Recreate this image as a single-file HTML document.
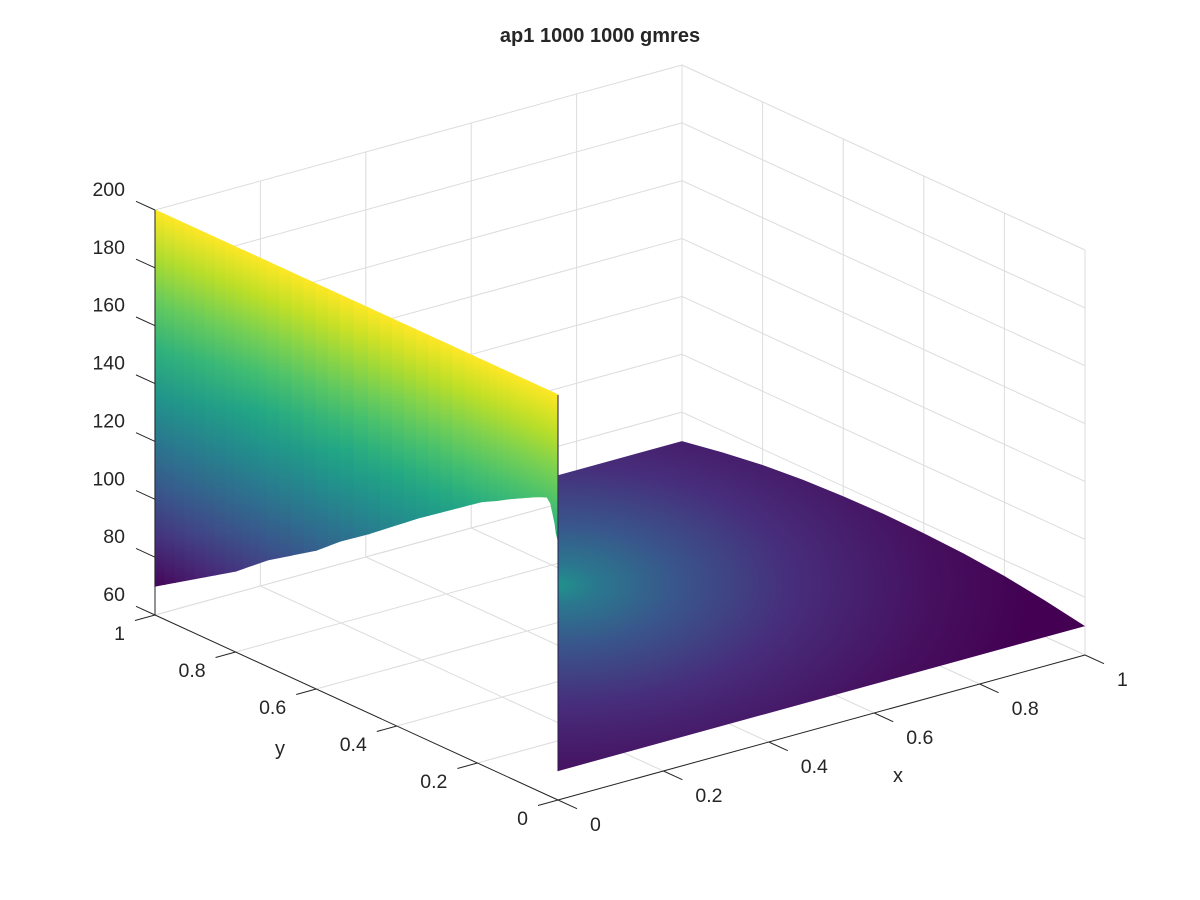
<!DOCTYPE html>
<html><head><meta charset="utf-8"><title>ap1 1000 1000 gmres</title>
<style>html,body{margin:0;padding:0;background:#fff}svg{display:block}text{font-family:"Liberation Sans",sans-serif;fill:#262626}</style>
</head><body>
<svg id="chart" width="1200" height="900" viewBox="0 0 1200 900" xmlns="http://www.w3.org/2000/svg">
<defs id="defs"></defs>
<g id="grid"></g>
<g id="surface"></g>
<g id="axes"></g>
<text x="600" y="42" text-anchor="middle" font-size="20" font-weight="bold">ap1 1000 1000 gmres</text>
<text x="898" y="782" text-anchor="middle" font-size="20">x</text>
<text x="280" y="755" text-anchor="middle" font-size="20">y</text>
</svg>
<script>
const xTicks=[0,0.2,0.4,0.6,0.8,1];
const yTicks=[0,0.2,0.4,0.6,0.8,1];
const zTicks=[60,80,100,120,140,160,180,200];
const xTickLabels=["0","0.2","0.4","0.6","0.8","1"];
const yTickLabels=["0","0.2","0.4","0.6","0.8","1"];
const zTickLabels=["60","80","100","120","140","160","180","200"];
// wall (x=0 edge) : top value and lower silhouette values along y
const wallTopZ=200;
const wallY=[1,0.95,0.9,0.85,0.8,0.76,0.72,0.66,0.6,0.54,0.47,0.41,0.35,0.29,0.23,0.19,0.15,0.12,0.1,0.08,0.06,0.04,0.027,0.018,0.012,0.007,0.004,0];
const wallZ=[70,74.5,79,83.5,88,92.5,97,102.5,108,115,122,128.5,135,141,147,151,154,156.5,158,159.5,161,162.3,163,161.5,158,155,152,150];
// far edge x=1 values along y
const edgeY=[0,0.1,0.2,0.3,0.4,0.5,0.6,0.7,0.8,0.9,1];
const edgeZ=[70,72.5,74.5,75.8,76.5,76.8,76.5,75.8,74.5,72.5,70];
const floorZ=70;
const zMin=60,zMax=200,cMin=68,cMax=200;

const NS="http://www.w3.org/2000/svg";
const K=405/140;
function P(x,y,z){return [558+527*x-403*y, 800-145*x-185*y-(z-zMin)*K];}
const vir=["#440154","#482475","#414487","#355f8d","#2a788e","#21918c","#22a884","#44bf70","#7ad151","#bddf26","#fde725"];
function hex(c){return [1,3,5].map(i=>parseInt(c.substr(i,2),16));}
function cmap(z){let t=(z-cMin)/(cMax-cMin);t=Math.max(0,Math.min(1,t))*10;const i=Math.min(9,Math.floor(t)),f=t-i;const a=hex(vir[i]),b=hex(vir[i+1]);return "rgb("+a.map((v,k)=>Math.round(v+(b[k]-v)*f)).join(",")+")";}
function el(tag,attrs,parent){const e=document.createElementNS(NS,tag);for(const k in attrs)e.setAttribute(k,attrs[k]);parent.appendChild(e);return e;}
const grid=document.getElementById('grid'),surf=document.getElementById('surface'),axes=document.getElementById('axes'),defs=document.getElementById('defs');
function line(a,b,parent,stroke,name){const l=el('line',{x1:a[0],y1:a[1],x2:b[0],y2:b[1],stroke:stroke,'stroke-width':1},parent);


return l;}
const gc="#dcdcdc";
xTicks.forEach(x=>{line(P(x,0,zMin),P(x,1,zMin),grid,gc,'floor-grid-x');line(P(x,1,zMin),P(x,1,zMax),grid,gc,'back-grid-x');});
yTicks.forEach(y=>{line(P(0,y,zMin),P(1,y,zMin),grid,gc,'floor-grid-y');line(P(1,y,zMin),P(1,y,zMax),grid,gc,'side-grid-y');});
zTicks.forEach(z=>{line(P(0,1,z),P(1,1,z),grid,gc,'back-grid-z');line(P(1,0,z),P(1,1,z),grid,gc,'side-grid-z');});

// floor
const rg=el('radialGradient',{id:'floorGrad',gradientUnits:'userSpaceOnUse',cx:0,cy:0,r:1,gradientTransform:'translate(558,585) scale(470,240)'},defs);
[[0,"#21918c"],[0.08,"#2a788e"],[0.25,"#39568c"],[0.5,"#472d7b"],[0.8,"#46105f"],[1,"#440154"]].forEach(s=>el('stop',{offset:s[0],'stop-color':s[1]},rg));
let pts=[];
wallY.forEach((y,i)=>pts.push(P(0,y,wallZ[i])));
pts.push(P(0,0,floorZ));
edgeY.forEach((y,i)=>pts.push(P(1,y,edgeZ[i])));
pts.push(P(0,1,floorZ));
const floor=el('polygon',{points:pts.map(p=>p.join(',')).join(' '),fill:'url(#floorGrad)'},surf);



// wall strips
for(let i=0;i<wallY.length-1;i++){
  const sub=2;
  for(let s=0;s<sub;s++){
    const y0=wallY[i]+(wallY[i+1]-wallY[i])*s/sub, y1=wallY[i]+(wallY[i+1]-wallY[i])*(s+1)/sub;
    const b0=wallZ[i]+(wallZ[i+1]-wallZ[i])*s/sub, b1=wallZ[i]+(wallZ[i+1]-wallZ[i])*(s+1)/sub;
    const bm=(b0+b1)/2, ym=(y0+y1)/2;
    const top=P(0,ym,wallTopZ), bot=P(0,ym,bm);
    const id='wg'+i+'_'+s;
    const g=el('linearGradient',{id:id,gradientUnits:'userSpaceOnUse',x1:top[0],y1:top[1],x2:bot[0],y2:bot[1]},defs);
    for(let k=0;k<=8;k++){el('stop',{offset:k/8,'stop-color':cmap(wallTopZ+(bm-wallTopZ)*k/8)},g);}
    const q=[P(0,y0,wallTopZ),P(0,y1,wallTopZ),P(0,y1,b1),P(0,y0,b0)];
    const poly=el('polygon',{points:q.map(p=>p.join(',')).join(' '),fill:'url(#'+id+')',stroke:'url(#'+id+')','stroke-width':1.2},surf);
    
    
  }
}
line(P(0,0,wallTopZ),P(0,0,floorZ),surf,"#2b1a4a",'wall-front-edge');

// axes
const ac="#262626";
line(P(0,1,zMin),P(0,1,zMax),axes,ac,'z-axis-line');
line(P(0,0,zMin),P(0,1,zMin),axes,ac,'y-axis-line');
line(P(0,0,zMin),P(1,0,zMin),axes,ac,'x-axis-line');
function txt(s,x,y,anchor,name){const t=el('text',{x:x,y:y,'text-anchor':anchor,'font-size':19.5},axes);t.textContent=s;

}
zTicks.forEach((z,i)=>{const p=P(0,1,z);line(p,[p[0]-19,p[1]-8.7],axes,ac,'z-tick');txt(zTickLabels[i],p[0]-30,p[1]-14,'end','z-tick-label');});
yTicks.forEach((y,i)=>{const p=P(0,y,zMin);line(p,[p[0]-20,p[1]+5.5],axes,ac,'y-tick');txt(yTickLabels[i],p[0]-30,p[1]+25,'end','y-tick-label');});
xTicks.forEach((x,i)=>{const p=P(x,0,zMin);line(p,[p[0]+19,p[1]+8.7],axes,ac,'x-tick');txt(xTickLabels[i],p[0]+32,p[1]+31,'start','x-tick-label');});
</script>
</body></html>
